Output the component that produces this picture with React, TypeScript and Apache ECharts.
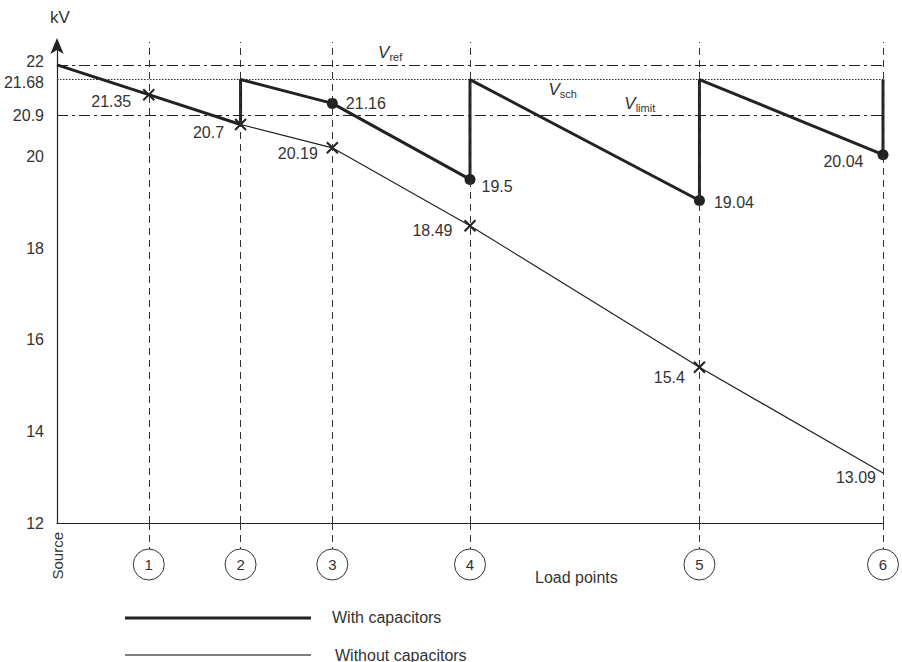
import React, { useEffect, useRef } from "react";
import * as echarts from "echarts";

// Positions along the feeder (Source, load points 1..6)
const feederX = [0, 2, 4, 6, 9, 14, 18];
const loadLabels = ["1", "2", "3", "4", "5", "6"];
const sourceLabel = "Source";

// Voltage without capacitors at Source, 1..6 (kV)
const withoutCapY = [22, 21.35, 20.7, 20.19, 18.49, 15.4, 13.09];

// Voltage profile with capacitors (jumps back to Vsch at 2, 4, 5, 6)
const withCapX = [0, 2, 4, 4, 6, 9, 9, 14, 14, 18, 18];
const withCapY = [22, 21.35, 20.7, 21.68, 21.16, 19.5, 21.68, 19.04, 21.68, 20.04, 21.68];

const yTickValues = [12, 14, 16, 18, 20, 20.9, 22];
const yExtraTickValues = [21.68];

const vRef = 22;
const vSch = 21.68;
const vLimit = 20.9;

const INK = "#222";
const TEXT = "#333";
const FONT = "'Liberation Sans', Arial, Helvetica, sans-serif";

export default function App() {
  const ref = useRef<HTMLDivElement>(null);

  useEffect(() => {
    document.body.style.margin = "0";
    if (!ref.current) return;
    const chart = echarts.init(ref.current, undefined, { renderer: "svg" });

    const labelBase = { show: true, color: TEXT, fontSize: 16, fontFamily: FONT };

    // markers and label placement (styles only)
    const withMarker = [false, false, false, false, true, true, false, true, false, true, false];
    const withLabel: any[] = [
      null, null, null, null,
      { position: "right", distance: 8, offset: [0, 0] },
      { position: "right", distance: 6, offset: [0, 7] },
      null,
      { position: "right", distance: 9, offset: [0, 2] },
      null,
      { position: "left", distance: 14, offset: [0, 7] },
      null,
    ];
    const withoutMarker = [false, true, true, true, true, true, false];
    const withoutLabel: any[] = [
      null,
      { position: "left", distance: 11, offset: [0, 7] },
      { position: "left", distance: 10, offset: [0, 8] },
      { position: "left", distance: 8, offset: [0, 6] },
      { position: "left", distance: 11, offset: [0, 5] },
      { position: "left", distance: 8, offset: [0, 10] },
      { position: "left", distance: 7, offset: [0, 4] },
    ];

    const withData = withCapX.map((x, i) => ({
      value: [x, withCapY[i]],
      symbol: "circle",
      symbolSize: withMarker[i] ? 11 : 0,
      label: withLabel[i]
        ? { ...labelBase, ...withLabel[i], formatter: String(withCapY[i]) }
        : { show: false },
    }));

    const withoutData = feederX.map((x, i) => ({
      value: [x, withoutCapY[i]],
      symbol: "path://M0,0L10,10M10,0L0,10",
      symbolSize: withoutMarker[i] ? 11 : 0,
      label: withoutLabel[i]
        ? { ...labelBase, ...withoutLabel[i], formatter: String(withoutCapY[i]) }
        : { show: false },
    }));

    const refLabel = (main: string, sub: string, dy: number) => ({
      show: true,
      position: "inside",
      offset: [0, dy],
      formatter: `{v|${main}}{s|${sub}}`,
      rich: {
        v: { fontSize: 17, fontStyle: "italic", color: TEXT, fontFamily: FONT, lineHeight: 20, verticalAlign: "middle" },
        s: { fontSize: 11, color: TEXT, fontFamily: FONT, lineHeight: 12, verticalAlign: "bottom" },
      },
    });

    const dashDot = [11, 4, 3, 4];
    const yLabelStyle = {
      margin: 13,
      fontSize: 16,
      color: TEXT,
      fontFamily: FONT,
      showMinLabel: true,
      showMaxLabel: true,
    };

    chart.setOption({
      animation: false,
      textStyle: { fontFamily: FONT },
      grid: { left: 57, right: 17, top: 42, bottom: 139, containLabel: false },
      xAxis: [
        {
          type: "value",
          min: 0,
          max: 18,
          axisLine: { show: true, lineStyle: { color: INK, width: 1.2 } },
          axisTick: {
            show: true,
            customValues: feederX.slice(1),
            length: 26,
            inside: false,
            lineStyle: { color: TEXT, width: 1, type: [7, 5] },
          },
          splitLine: { show: false },
          axisLabel: {
            show: true,
            customValues: feederX.slice(1),
            margin: 26,
            showMinLabel: true,
            showMaxLabel: true,
            formatter: (v: number) => `{c|${loadLabels[feederX.indexOf(v) - 1] ?? ""}}`,
            rich: {
              c: {
                width: 31,
                height: 31,
                lineHeight: 31,
                align: "center",
                fontSize: 15,
                color: TEXT,
                fontFamily: FONT,
                borderColor: TEXT,
                borderWidth: 1,
                borderRadius: 16,
              },
            },
          },
        },
        {
          type: "value",
          min: 0,
          max: 18,
          position: "bottom",
          axisLine: { show: false },
          axisTick: { show: false },
          splitLine: { show: false },
          axisLabel: {
            show: true,
            customValues: [feederX[0]],
            showMinLabel: true,
            rotate: 90,
            margin: 9,
            fontSize: 15,
            color: TEXT,
            fontFamily: FONT,
            formatter: () => sourceLabel,
          },
        },
      ],
      yAxis: [
        {
          type: "value",
          min: 12,
          max: 22.5,
          name: "kV",
          nameLocation: "end",
          nameGap: 16,
          nameTextStyle: { fontSize: 17, color: TEXT, fontFamily: FONT, padding: [0, 0, 0, 6] },
          axisLine: {
            show: true,
            lineStyle: { color: INK, width: 1.2 },
            symbol: ["none", "arrow"],
            symbolSize: [10, 16],
            symbolOffset: [0, 4],
          },
          axisTick: { show: false },
          splitLine: { show: false },
          axisLabel: {
            ...yLabelStyle,
            customValues: yTickValues,
            formatter: (v: number) => (v === vRef ? `{t|${v}}` : `{n|${v}}`),
            rich: {
              t: { fontSize: 16, color: TEXT, fontFamily: FONT, lineHeight: 14, padding: [0, 0, 6, 0] },
              n: { fontSize: 16, color: TEXT, fontFamily: FONT, lineHeight: 14 },
            },
          },
        },
        {
          type: "value",
          min: 12,
          max: 22.5,
          position: "left",
          offset: 0,
          axisLine: { show: false },
          axisTick: { show: false },
          splitLine: { show: false },
          axisLabel: {
            ...yLabelStyle,
            customValues: yExtraTickValues,
            formatter: (v: number) => `{b|${v}}`,
            rich: {
              b: { fontSize: 16, color: TEXT, fontFamily: FONT, lineHeight: 14, padding: [6, 0, 0, 0] },
            },
          },
        },
      ],
      series: [
        {
          name: "With capacitors",
          type: "line",
          data: withData,
          lineStyle: { color: INK, width: 3 },
          itemStyle: { color: INK },
          silent: true,
          clip: false,
          z: 3,
          markPoint: {
            symbol: "circle",
            symbolSize: 0,
            silent: true,
            data: [
              { coord: [7.26, vRef], label: refLabel("V", "ref", -12) },
              { coord: [11.02, vSch], label: refLabel("V", "sch", 10) },
              { coord: [12.7, vLimit], label: refLabel("V", "limit", -12) },
            ],
          },
        },
        {
          name: "Without capacitors",
          type: "line",
          data: withoutData,
          lineStyle: { color: INK, width: 1.2 },
          itemStyle: { color: INK, borderColor: INK, borderWidth: 2 },
          silent: true,
          clip: false,
          z: 4,
          markLine: {
            symbol: "none",
            silent: true,
            label: { show: false },
            data: [
              { yAxis: vRef, lineStyle: { color: INK, width: 1, type: dashDot } },
              { yAxis: vSch, lineStyle: { color: INK, width: 1, type: [1.5, 1.5] } },
              { yAxis: vLimit, lineStyle: { color: INK, width: 1, type: dashDot } },
              ...feederX.slice(1).map((x) => ({
                xAxis: x,
                lineStyle: { color: TEXT, width: 1, type: [7, 5] },
              })),
            ],
          },
        },
      ],
      graphic: [
        {
          type: "text",
          left: 535,
          top: 569,
          style: { text: "Load points", fontSize: 16, fill: TEXT, fontFamily: FONT },
        },
        {
          type: "line",
          shape: { x1: 125, y1: 618, x2: 311, y2: 618 },
          style: { stroke: INK, lineWidth: 3 },
        },
        {
          type: "text",
          left: 332,
          top: 609,
          style: { text: "With capacitors", fontSize: 16, fill: TEXT, fontFamily: FONT },
        },
        {
          type: "line",
          shape: { x1: 125, y1: 655, x2: 311, y2: 655 },
          style: { stroke: "#555", lineWidth: 1.6 },
        },
        {
          type: "text",
          left: 335,
          top: 647,
          style: { text: "Without capacitors", fontSize: 16, fill: TEXT, fontFamily: FONT },
        },
      ],
    });

    return () => chart.dispose();
  }, []);

  return <div ref={ref} style={{ width: 902, height: 662 }} />;
}
